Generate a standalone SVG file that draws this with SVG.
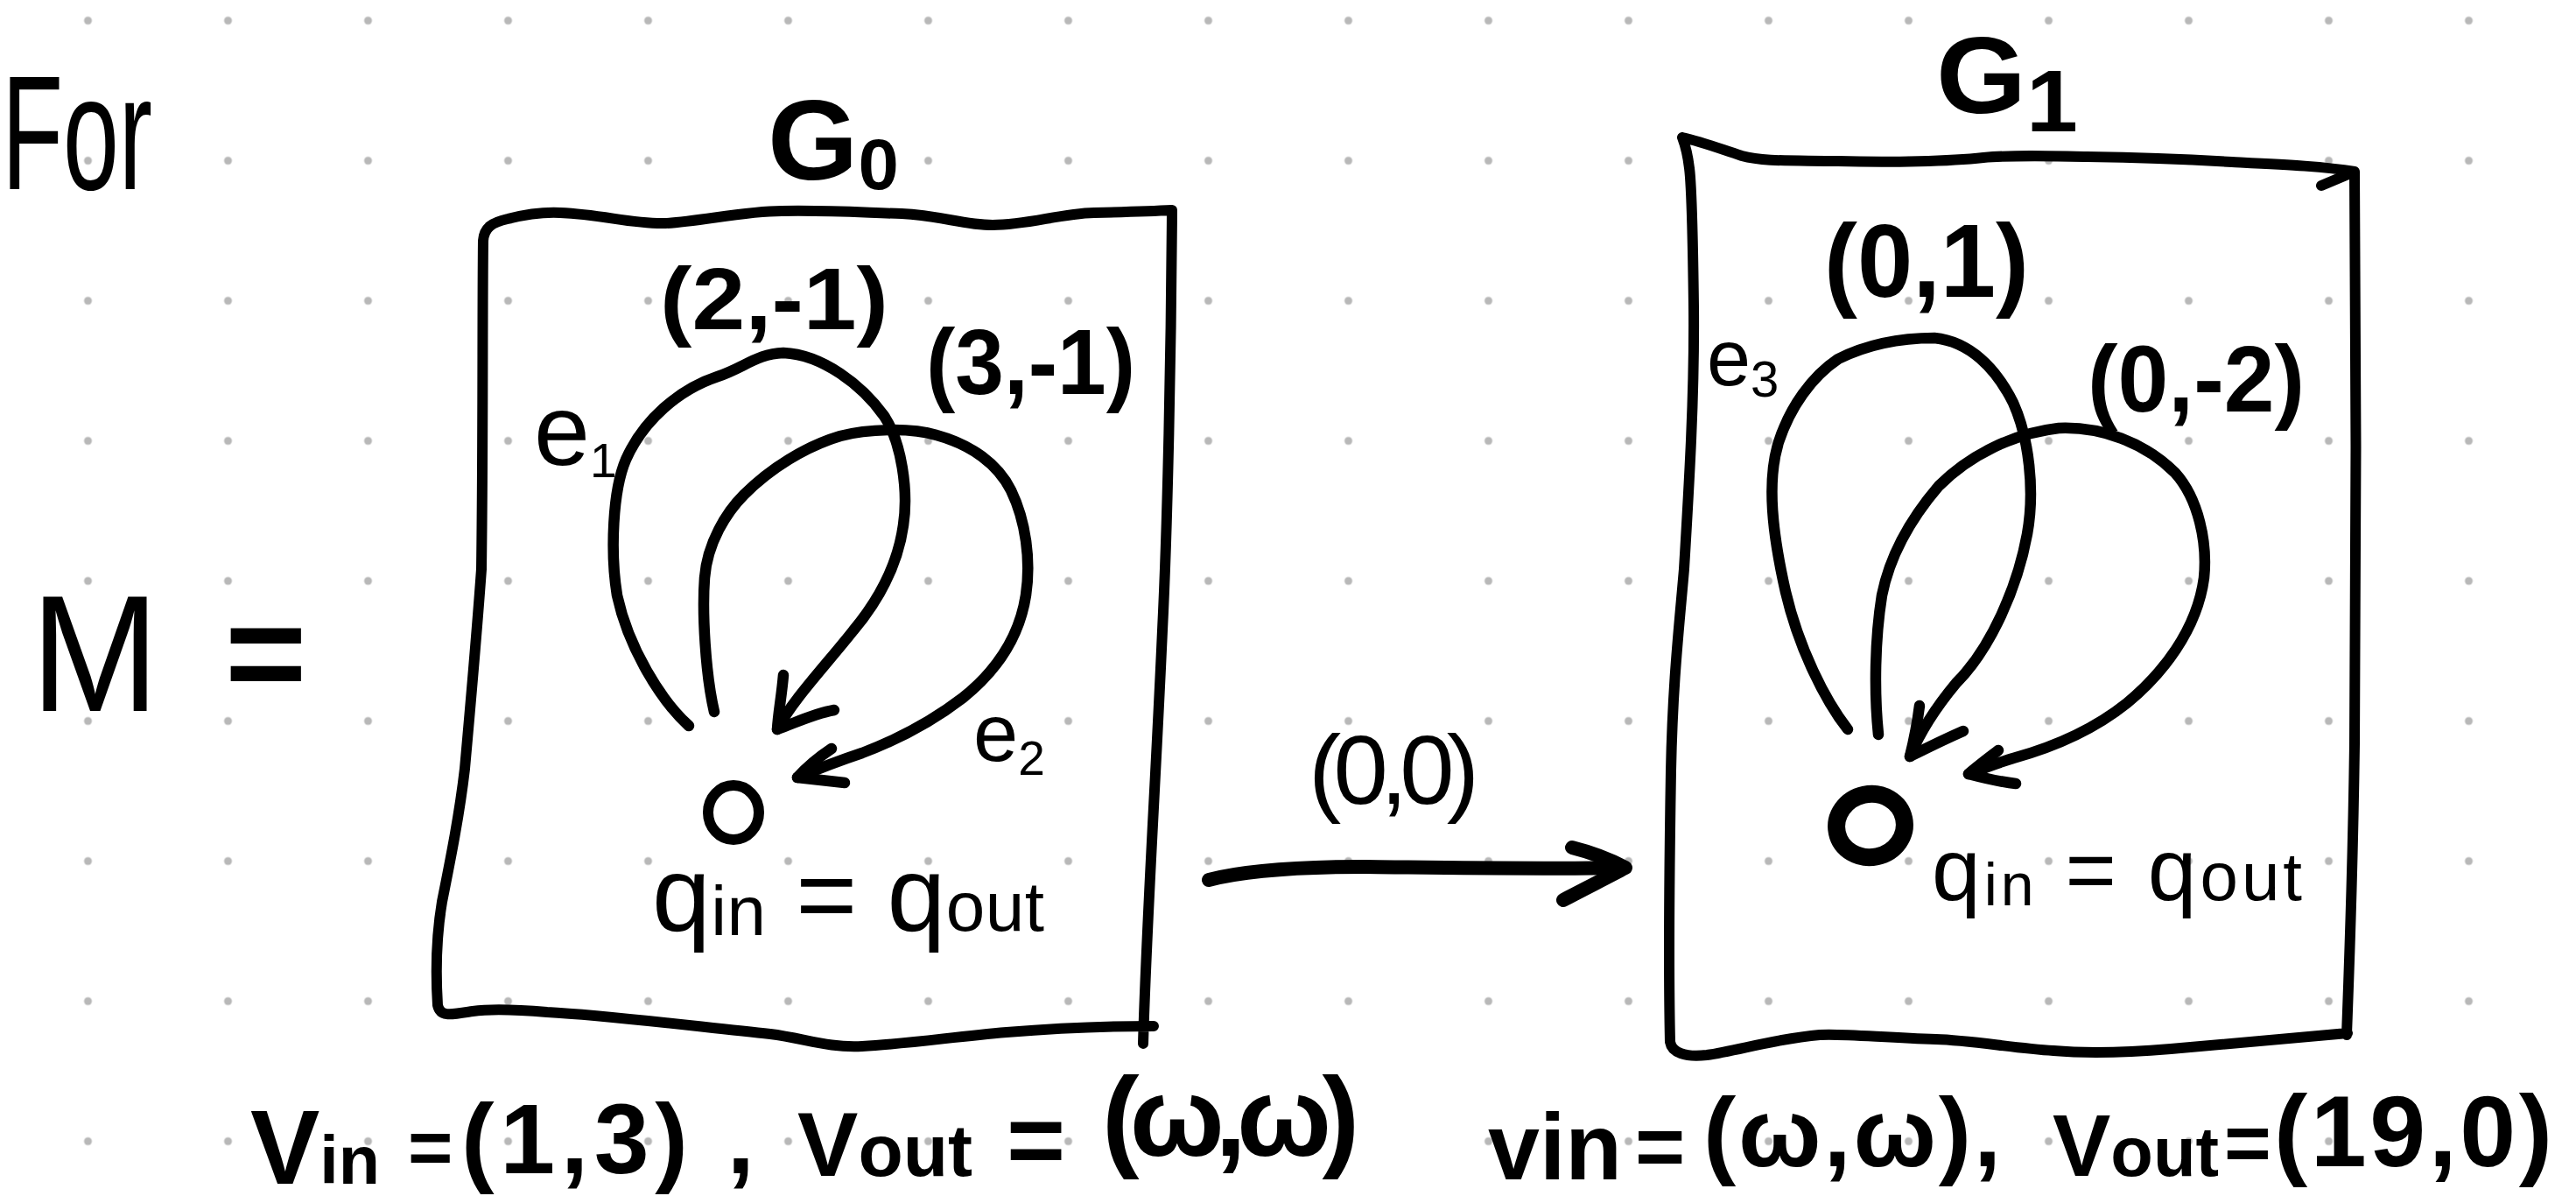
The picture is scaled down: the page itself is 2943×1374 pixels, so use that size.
<svg xmlns="http://www.w3.org/2000/svg" width="2943" height="1374" viewBox="0 0 2943 1374">
<style>
.t{font-family:'Liberation Sans',Arial,sans-serif;fill:#000}
.b{font-weight:bold}
.ink{fill:none;stroke:#000;stroke-linecap:round;stroke-linejoin:round}
.box{stroke-width:12}
.loop{stroke-width:12.5}
.link{stroke-width:16}
</style>
<defs>
<pattern id="dots" x="20.5" y="-56.5" width="160" height="160" patternUnits="userSpaceOnUse">
<circle cx="80" cy="80" r="4.5" fill="#b8b8b8"/>
</pattern>
</defs>
<rect width="2943" height="1374" fill="#fff"/>
<rect width="2943" height="1374" fill="url(#dots)"/>

<g id="intro">
<text class="t" x="2" y="216" font-size="185" textLength="172" lengthAdjust="spacingAndGlyphs">For</text>
<text class="t" x="35" y="812" font-size="190" textLength="147" lengthAdjust="spacingAndGlyphs">M</text>
<text class="t b" x="257" y="801" font-size="160">=</text>
</g>

<g id="node-G0">
<path class="ink box" d="M 552,275 C 553,260 562,254 580,250 C 600,245 620,242 640,243 C 690,245 720,256 760,255 C 800,253 850,241 893,241 C 950,240 990,243 1030,244 C 1075,246 1100,257 1134,257 C 1175,257 1210,244 1250,243 C 1290,242 1320,241 1339,240 C 1338,400 1334,600 1328,720 C 1320,900 1310,1050 1306,1192 M 1318,1172 C 1260,1172 1200,1175 1150,1179 C 1090,1184 1040,1192 985,1195 C 945,1197 920,1186 880,1181 C 800,1173 700,1160 625,1156 C 590,1153 560,1152 540,1155 C 515,1159 503,1162 500,1148 C 497,1100 500,1060 505,1030 C 515,980 525,930 531,878 C 538,800 545,720 550,650 C 552,500 551,360 552,275"/>
<text class="t b" x="877" y="205" font-size="130" textLength="150" lengthAdjust="spacingAndGlyphs">G<tspan font-size="82" dy="11">0</tspan></text>
<ellipse class="ink" cx="838" cy="928" rx="29" ry="31" stroke-width="12"/>
<text class="t" x="745" y="1063" font-size="120" textLength="448">q<tspan font-size="80" dy="5">in</tspan><tspan dy="-5"> = q</tspan><tspan font-size="80">out</tspan></text>
</g>

<g id="node-G1">
<path class="ink box" d="M 1922,157 C 1945,162 1965,170 1990,178 C 2015,185 2050,183 2100,184 C 2160,186 2230,184 2266,180 C 2300,177 2340,178 2384,179 C 2450,180 2500,182 2550,185 C 2610,188 2655,190 2690,196 L 2652,212 M 2690,196 C 2692,400 2692,650 2690,850 C 2688,1000 2684,1100 2681,1182 M 2682,1180 C 2620,1186 2550,1192 2480,1198 C 2420,1203 2380,1203 2346,1200 C 2300,1197 2250,1188 2212,1187 C 2150,1185 2100,1180 2079,1182 C 2030,1186 1985,1200 1950,1205 C 1925,1208 1910,1202 1908,1190 C 1906,1100 1907,1000 1909,880 C 1911,780 1918,720 1924,650 C 1930,550 1936,450 1935,350 C 1934,270 1933,215 1930,192 C 1928,175 1925,165 1922,157"/>
<text class="t b" x="2212" y="129" font-size="125" textLength="162" lengthAdjust="spacingAndGlyphs">G<tspan font-size="100" dy="21">1</tspan></text>
<ellipse class="ink" cx="2137" cy="943" rx="39" ry="36" stroke-width="20" transform="rotate(-12 2137 943)"/>
<text class="t" x="2207" y="1028" font-size="100" textLength="423">q<tspan font-size="68" dy="6">in</tspan><tspan dy="-6"> = q</tspan><tspan font-size="78">out</tspan></text>
</g>

<g id="connectors">
<path class="ink loop" d="M 787,829 C 755,800 718,740 705,680 C 697,630 700,560 715,525 C 735,480 775,445 820,430 C 850,420 865,404 895,403 C 940,405 985,440 1010,475 C 1030,505 1038,560 1032,600 C 1025,650 1000,690 975,720 C 945,758 905,800 888,833"/>
<path class="ink loop" d="M 895,771 C 893,795 889,815 888,833 C 910,825 930,815 953,811"/>
<path class="ink loop" d="M 816,813 C 806,770 802,700 805,660 C 808,620 830,585 850,565 C 880,535 920,510 960,498 C 990,490 1040,488 1070,497 C 1110,508 1140,530 1155,560 C 1172,595 1178,640 1172,680 C 1165,725 1140,765 1100,797 C 1070,820 1030,843 985,860 C 955,870 930,880 911,888"/>
<path class="ink loop" d="M 950,855 C 935,865 920,878 911,888 C 930,890 948,892 965,894"/>
<path class="ink loop" d="M 2111,833 C 2085,800 2055,740 2040,676 C 2025,610 2018,550 2032,505 C 2045,465 2070,430 2100,410 C 2130,395 2165,386 2210,386 C 2250,390 2280,420 2300,460 C 2318,500 2325,560 2316,610 C 2305,670 2275,740 2235,780 C 2210,810 2192,840 2182,864"/>
<path class="ink loop" d="M 2193,806 C 2190,830 2186,848 2182,864 C 2200,855 2220,845 2243,835"/>
<path class="ink loop" d="M 2146,839 C 2141,790 2142,730 2150,680 C 2160,630 2185,590 2215,555 C 2250,520 2300,495 2352,489 C 2400,487 2450,505 2485,540 C 2512,570 2522,620 2518,660 C 2510,720 2470,770 2430,803 C 2390,835 2340,855 2300,866 C 2280,872 2265,878 2249,884"/>
<path class="ink loop" d="M 2283,857 C 2270,867 2258,876 2249,884 C 2268,889 2285,893 2303,895"/>
<path class="ink link" d="M 1381,1005 C 1420,995 1480,990 1560,990 C 1650,991 1750,993 1855,991"/>
<path class="ink link" d="M 1796,968 C 1820,974 1840,982 1857,991 C 1835,1003 1810,1015 1786,1028"/>

<text class="t b" x="754" y="376" font-size="100" textLength="261" lengthAdjust="spacingAndGlyphs">(2,-1)</text>
<text class="t b" x="1058" y="450" font-size="105" textLength="239" lengthAdjust="spacingAndGlyphs">(3,-1)</text>
<text class="t" x="610" y="531" font-size="115">e<tspan font-size="55" dy="14">1</tspan></text>
<text class="t" x="1112" y="869" font-size="92">e<tspan font-size="55" dy="16">2</tspan></text>
<text class="t b" x="2084" y="339" font-size="118" textLength="234" lengthAdjust="spacingAndGlyphs">(0,1)</text>
<text class="t b" x="2385" y="470" font-size="108" textLength="248" lengthAdjust="spacingAndGlyphs">(0,-2)</text>
<text class="t" x="1950" y="440" font-size="90">e<tspan font-size="58" dy="13">3</tspan></text>
<text class="t" x="1495" y="918" font-size="112" textLength="195">(0,0)</text>
</g>

<g id="vectors">
<text class="t b" x="286" y="1352" font-size="120" textLength="148" lengthAdjust="spacingAndGlyphs">V<tspan font-size="78">in</tspan></text>
<text class="t b" x="466" y="1340" font-size="88">=</text>
<text class="t b" x="527" y="1340" font-size="113" textLength="335">(1,3) ,</text>
<text class="t b" x="911" y="1343" font-size="104" textLength="200" lengthAdjust="spacingAndGlyphs">V<tspan font-size="84">out</tspan></text>
<text class="t b" x="1150" y="1341" font-size="115">=</text>
<text class="t b" x="1259" y="1320" font-size="128" textLength="294">(ω,ω)</text>

<text class="t b" x="1700" y="1347" font-size="108" textLength="153" lengthAdjust="spacingAndGlyphs">vin</text>
<text class="t b" x="1868" y="1343" font-size="98">=</text>
<text class="t b" x="1946" y="1332" font-size="112" textLength="340">(ω,ω),</text>
<text class="t b" x="2345" y="1343" font-size="100" textLength="190" lengthAdjust="spacingAndGlyphs">V<tspan font-size="80">out</tspan></text>
<text class="t b" x="2541" y="1337" font-size="92">=</text>
<text class="t b" x="2598" y="1332" font-size="115" textLength="318">(19,0)</text>
</g>
</svg>
